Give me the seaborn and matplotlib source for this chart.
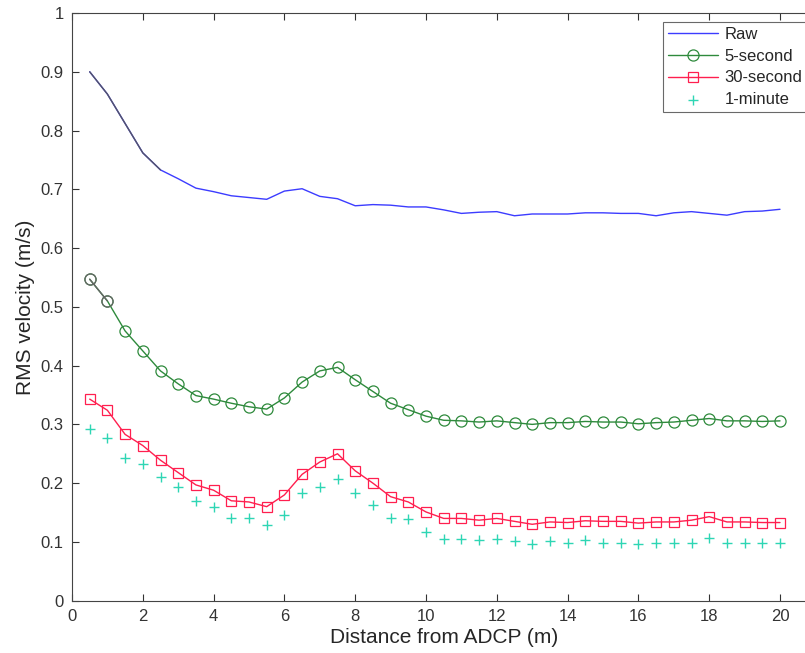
# libraries
import numpy as np
import pandas as pd
import matplotlib
matplotlib.use("Agg")
import matplotlib.pyplot as plt
import seaborn as sns

# distance from the ADCP (m), one value every half metre
dist = [0.5, 1.0, 1.5, 2.0, 2.5, 3.0, 3.5, 4.0, 4.5, 5.0,
        5.5, 6.0, 6.5, 7.0, 7.5, 8.0, 8.5, 9.0, 9.5, 10.0,
        10.5, 11.0, 11.5, 12.0, 12.5, 13.0, 13.5, 14.0, 14.5, 15.0,
        15.5, 16.0, 16.5, 17.0, 17.5, 18.0, 18.5, 19.0, 19.5, 20.0]

# rms velocity (m/s) for each averaging window
raw = [0.900, 0.862, 0.812, 0.762, 0.733, 0.718, 0.702, 0.696, 0.689, 0.686,
       0.683, 0.697, 0.701, 0.688, 0.684, 0.672, 0.674, 0.673, 0.670, 0.670,
       0.665, 0.659, 0.661, 0.662, 0.655, 0.658, 0.658, 0.658, 0.660, 0.660,
       0.659, 0.659, 0.655, 0.660, 0.662, 0.659, 0.656, 0.662, 0.663, 0.666]

sec5 = [0.547, 0.510, 0.459, 0.425, 0.391, 0.369, 0.349, 0.343, 0.336, 0.330,
        0.326, 0.345, 0.372, 0.391, 0.397, 0.376, 0.356, 0.336, 0.325, 0.314,
        0.307, 0.306, 0.304, 0.306, 0.303, 0.300, 0.303, 0.303, 0.305, 0.304,
        0.304, 0.301, 0.303, 0.304, 0.307, 0.310, 0.306, 0.306, 0.305, 0.306]

sec30 = [0.343, 0.324, 0.283, 0.264, 0.239, 0.218, 0.197, 0.188, 0.170, 0.168,
         0.160, 0.180, 0.215, 0.236, 0.250, 0.221, 0.200, 0.177, 0.168, 0.151,
         0.140, 0.140, 0.137, 0.140, 0.135, 0.130, 0.134, 0.133, 0.136, 0.135,
         0.135, 0.132, 0.134, 0.134, 0.137, 0.143, 0.134, 0.134, 0.133, 0.133]

min1 = [0.292, 0.277, 0.243, 0.232, 0.210, 0.194, 0.170, 0.159, 0.140, 0.140,
        0.128, 0.146, 0.184, 0.193, 0.207, 0.183, 0.163, 0.140, 0.139, 0.117,
        0.105, 0.105, 0.103, 0.105, 0.101, 0.096, 0.101, 0.099, 0.103, 0.099,
        0.099, 0.096, 0.099, 0.099, 0.099, 0.107, 0.099, 0.099, 0.098, 0.098]

sns.set_style("ticks")
plt.rcParams["font.family"] = ["Liberation Sans", "DejaVu Sans"]

fig = plt.figure(figsize=(8.05, 6.53), dpi=100)
# axes run past the right edge of the picture, like the original crop
ax = fig.add_axes([72 / 805, 52.3 / 653, 21 * 35.4 / 805, 587.7 / 653])

sns.lineplot(x=dist, y=raw, ax=ax, color="#3c3cff", linewidth=1.0, label="Raw")
sns.lineplot(x=dist, y=sec5, ax=ax, color="#2e8a3c", linewidth=1.0,
             marker="o", markersize=8, markerfacecolor="none",
             markeredgecolor="#2e8a3c", markeredgewidth=0.9, label="5-second")
sns.lineplot(x=dist, y=sec30, ax=ax, color="#ff1f4f", linewidth=1.0,
             marker="s", markersize=7.5, markerfacecolor="none",
             markeredgecolor="#ff1f4f", markeredgewidth=0.9, label="30-second")
sns.scatterplot(x=dist, y=min1, ax=ax, color="#2ed6b4", marker="+",
                s=55, linewidth=1.0, label="1-minute")

# the first few points look darker in the original
sns.lineplot(x=dist[:5], y=raw[:5], ax=ax, color="#555566", linewidth=1.0, legend=False)
sns.lineplot(x=dist[:2], y=sec5[:2], ax=ax, color="#666666", linewidth=1.0,
             marker="o", markersize=8, markerfacecolor="none",
             markeredgecolor="#666666", markeredgewidth=0.9, legend=False)

ax.set_xlim(0, 21)
ax.set_ylim(0, 1)
ax.set_xticks(np.arange(0, 21, 2))
ax.set_yticks(np.arange(0, 1.01, 0.1))
ax.set_yticklabels(["0", "0.1", "0.2", "0.3", "0.4", "0.5", "0.6", "0.7", "0.8", "0.9", "1"])
ax.tick_params(direction="in", length=5, width=0.8, labelsize=12, colors="#333333",
               top=True, right=True, pad=6)
for s in ax.spines.values():
    s.set_visible(True)
    s.set_color("#444444")
    s.set_linewidth(0.8)

ax.set_xlabel("Distance from ADCP (m)", fontsize=15, labelpad=3)
ax.set_ylabel("RMS velocity (m/s)", fontsize=15, labelpad=4)

leg = ax.legend(loc="upper left", bbox_to_anchor=(663 / 805, 1 - 22 / 653),
                bbox_transform=fig.transFigure, borderaxespad=0, fontsize=12,
                frameon=True, fancybox=False, edgecolor="#444444",
                handlelength=3.0, handletextpad=0.4, labelspacing=0.4,
                borderpad=0.3)
leg.get_frame().set_linewidth(0.8)

fig.savefig("out.png", dpi=100)
